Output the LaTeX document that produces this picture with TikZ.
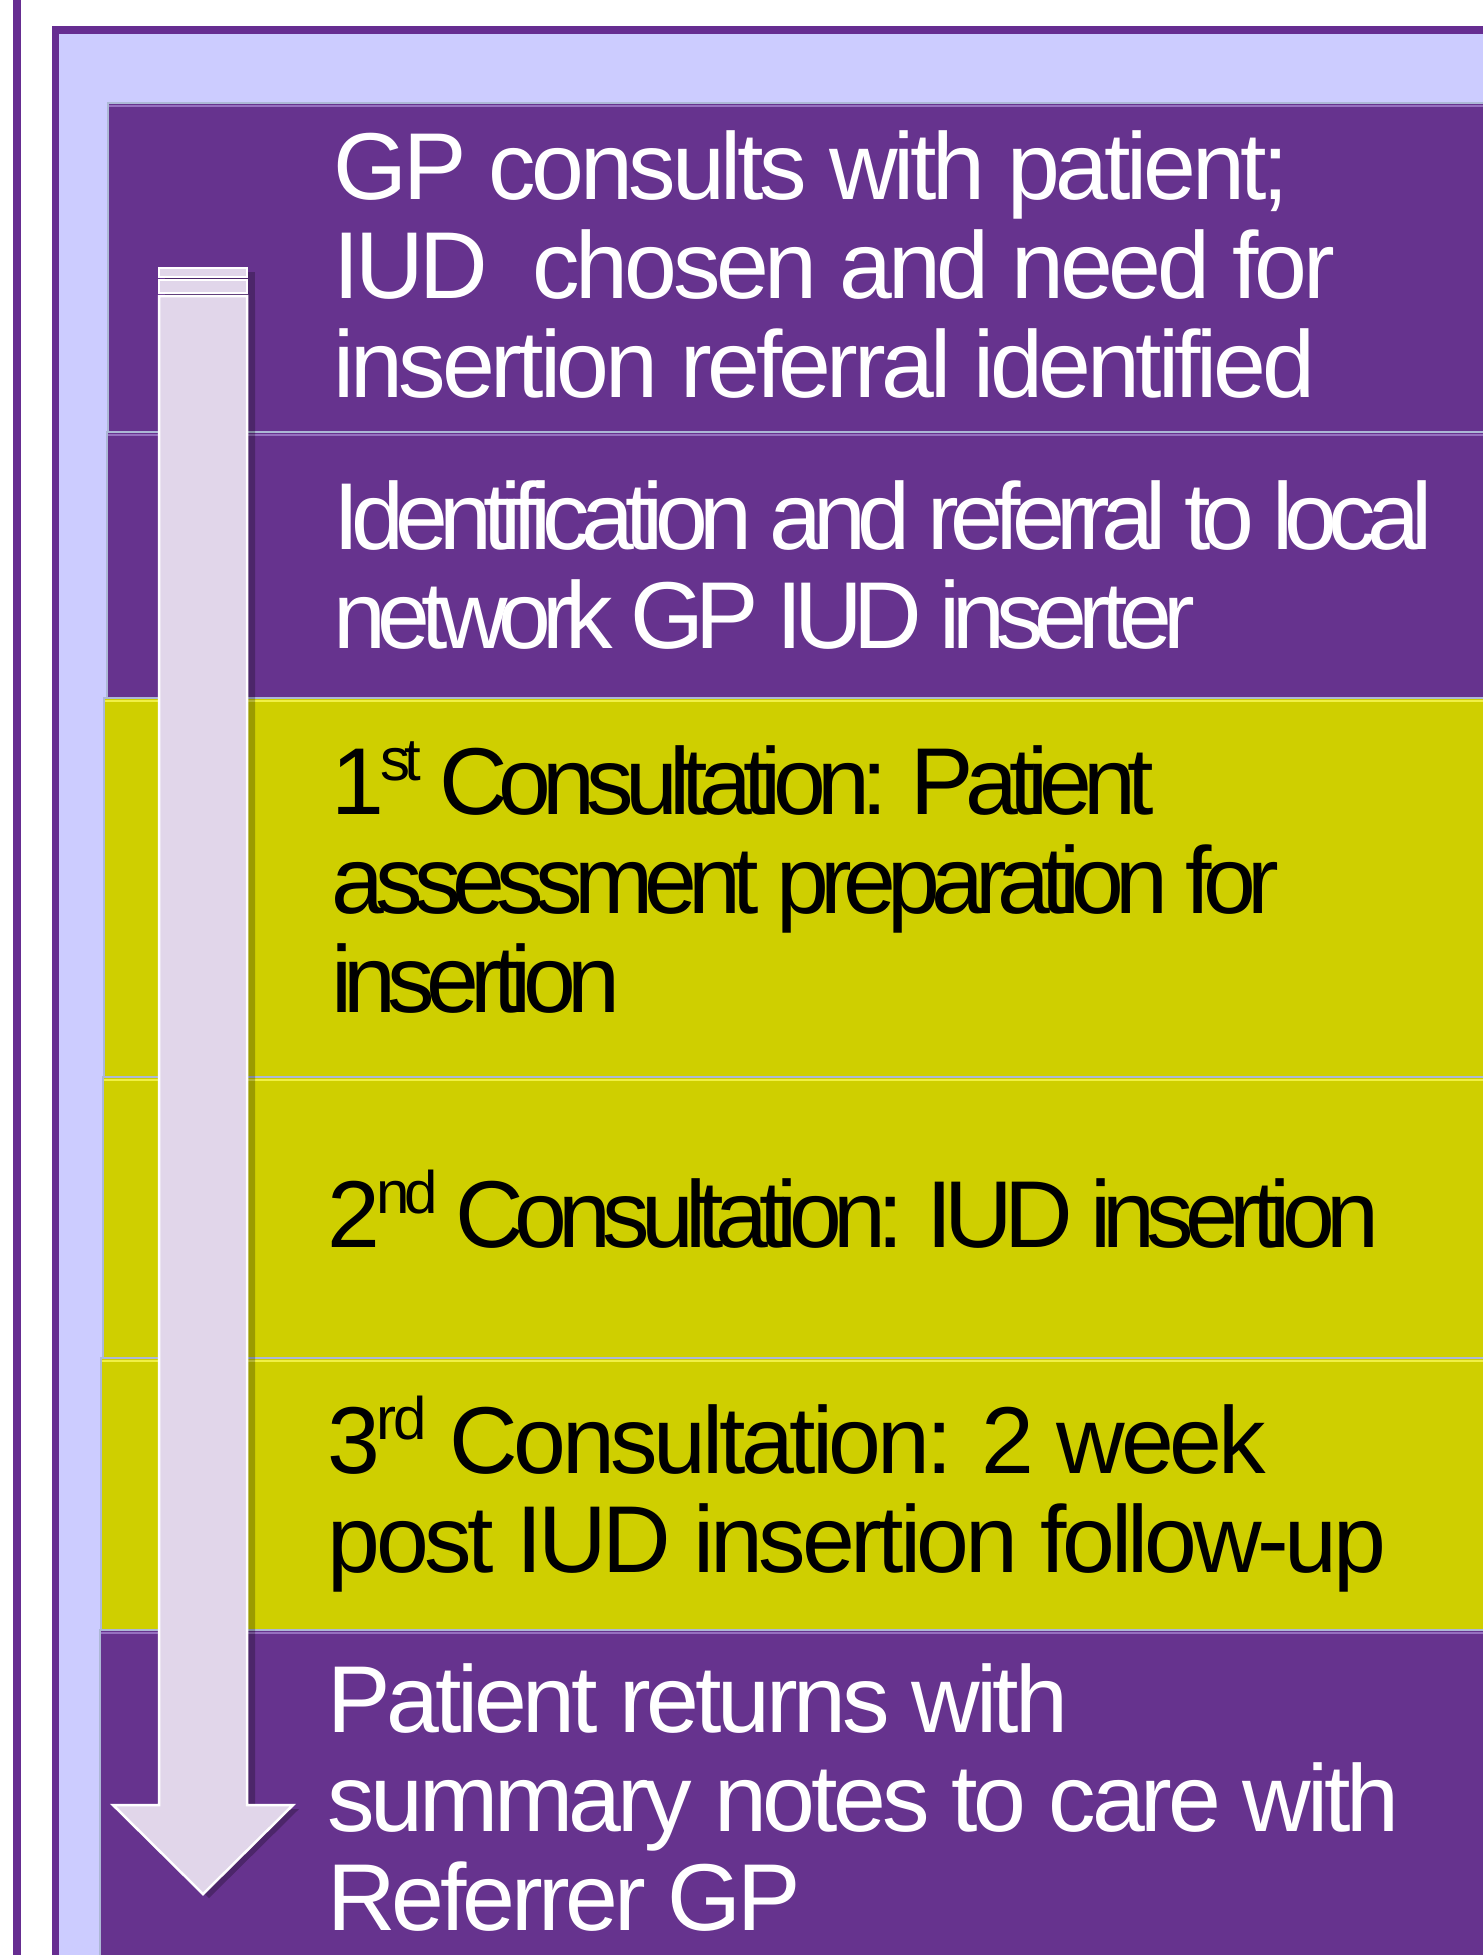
\documentclass[tikz,border=0pt]{standalone}
\usepackage{fontspec}
\setmainfont{Liberation Sans}
\newfontfamily\tightfont[LetterSpace=-4.5]{Liberation Sans}
\newfontfamily\squeezefont[LetterSpace=-9.3]{Liberation Sans}
\newcommand\ordsup[1]{\kern-0.04em\raisebox{0.35em}{\fontsize{30}{30}\selectfont #1}}

\definecolor{stagepurple}{RGB}{102,51,142}
\definecolor{framepurple}{RGB}{102,45,145}
\definecolor{stageyellow}{RGB}{207,207,0}
\definecolor{framelavender}{RGB}{204,204,255}
\definecolor{arrowlilac}{RGB}{225,214,234}
\definecolor{boxedge}{RGB}{172,184,214}
\definecolor{purpleglint}{RGB}{150,112,192}
\definecolor{yellowglint}{RGB}{240,240,70}

\tikzset{
  purplebox/.style={fill=stagepurple, draw=boxedge, line width=0.75pt},
  yellowbox/.style={fill=stageyellow, draw=boxedge, line width=0.75pt},
  stagetext/.style={anchor=base west, align=left, inner sep=0pt},
  tighttext/.style={stagetext, font=\tightfont\fontsize{47.5}{49.5}\selectfont},
  squeezetext/.style={stagetext, font=\squeezefont\fontsize{47.5}{49.5}\selectfont},
}

\begin{document}
\begin{tikzpicture}[x=0.5pt, y=-0.5pt]

    % page size
    \useasboundingbox (0,0) rectangle (1483,1955);
    \clip (0,0) rectangle (1483,1955);

    % left rule and outer frame
    \fill[framepurple] (13,0) rectangle (21,1955);
    \filldraw[fill=framelavender, draw=framepurple, line width=3.75pt] (55.5,30) rectangle (1600,2100);

    % stage boxes
    \filldraw[purplebox] (108,103) rectangle (1600,432);
    \filldraw[purplebox] (107,432) rectangle (1600,698);
    \filldraw[yellowbox] (104,698) rectangle (1600,1077);
    \filldraw[yellowbox] (103,1077) rectangle (1600,1358);
    \filldraw[yellowbox] (101,1358) rectangle (1600,1630);
    \filldraw[purplebox] (100,1630) rectangle (1600,2100);

    % top glints
    \draw[purpleglint, line width=1pt] (109,106) -- (1600,106);
    \draw[purpleglint, line width=1pt] (108,435) -- (1600,435);
    \draw[yellowglint, line width=1pt] (105,701) -- (1600,701);
    \draw[yellowglint, line width=1pt] (104,1080) -- (1600,1080);
    \draw[yellowglint, line width=1pt] (102,1361) -- (1600,1361);
    \draw[purpleglint, line width=1pt] (101,1633) -- (1600,1633);

    % arrow shadow
    \fill[black, opacity=0.25] (165,272) rectangle (255,300);
    \fill[black, opacity=0.25] (165,300) -- (165,1809) -- (119,1809) -- (209,1898)
        -- (299,1809) -- (255,1809) -- (255,300) -- cycle;

    % arrow
    \filldraw[fill=arrowlilac, draw=white, line width=1.25pt] (159,268) rectangle (247,277);
    \filldraw[fill=arrowlilac, draw=white, line width=1.25pt] (159,280) rectangle (247,293);
    \filldraw[fill=arrowlilac, draw=white, line width=1.25pt] (159,296) -- (159,1805) -- (113,1805)
        -- (203,1894) -- (293,1805) -- (247,1805) -- (247,296) -- cycle;

    % stage texts (placed at the baseline of their last line)
    \node[tighttext, text=white] (consult) at (333,397)
        {GP consults with patient;\\IUD\ \ chosen and need for\\insertion referral identified};
    \node[squeezetext, text=white] (referral) at (333,648)
        {Identification and referral to local\\network GP IUD inserter};
    \node[squeezetext, text=black] (visit1) at (331,1012)
        {1\ordsup{st} Consultation: Patient\\assessment preparation for\\insertion};
    \node[squeezetext, text=black] (visit2) at (327,1247)
        {2\ordsup{nd} Consultation: IUD insertion};
    \node[tighttext, text=black] (visit3) at (327,1572)
        {3\ordsup{rd} Consultation: 2 week\\post IUD insertion follow-up};
    \node[tighttext, text=white] (handback) at (327,1930)
        {Patient returns with\\summary notes to care with\\Referrer GP};

\end{tikzpicture}
\end{document}
